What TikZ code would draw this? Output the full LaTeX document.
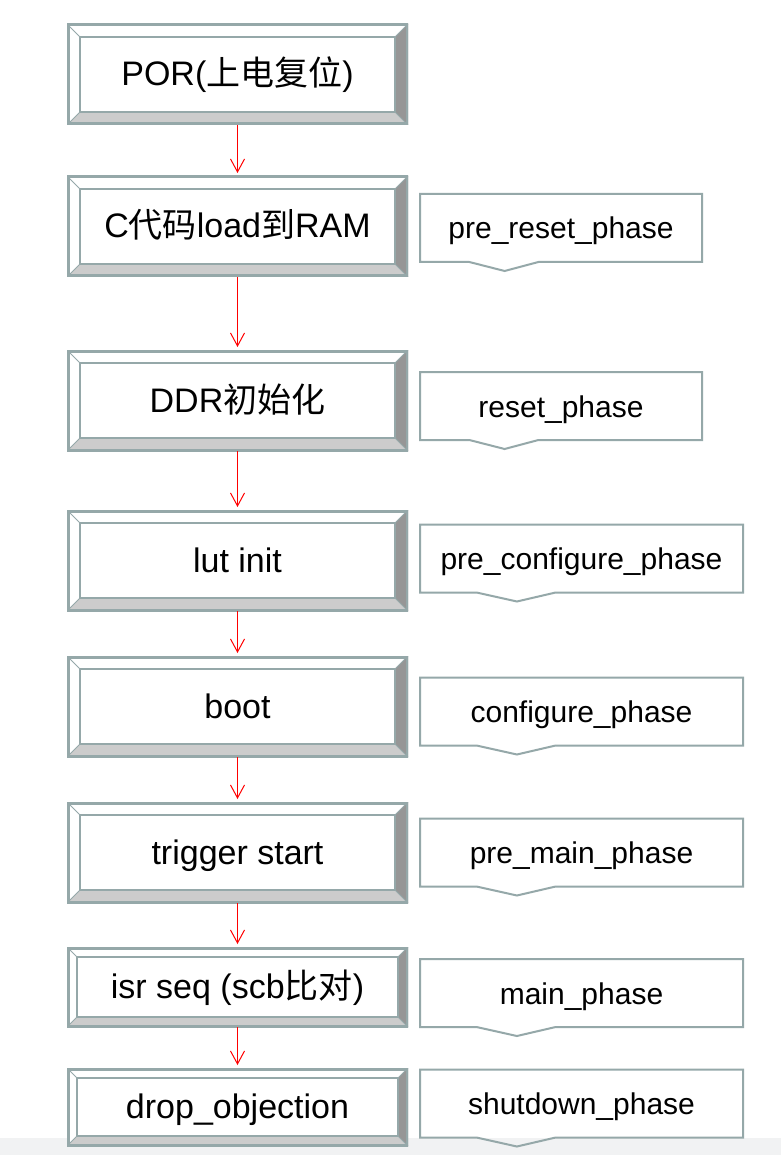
\documentclass[tikz,border=0pt]{standalone}
\usepackage{fontspec}
\setmainfont{Liberation Sans}
\newfontfamily\cjk{Noto Sans CJK SC}
\usepackage{xcolor}
\usepackage{tikz}
\usetikzlibrary{arrows.meta,positioning,calc}
\definecolor{edgegray}{HTML}{95A8A9}
\definecolor{bevelside}{HTML}{969696}
\definecolor{bevelfoot}{HTML}{CCCCCC}
\definecolor{bandgray}{HTML}{F1F2F3}
\newcommand{\bevelpic}[1]{%
  \coordinate (bnw) at (path picture bounding box.north west);
  \coordinate (bne) at (path picture bounding box.north east);
  \coordinate (bsw) at (path picture bounding box.south west);
  \coordinate (bse) at (path picture bounding box.south east);
  \coordinate (inw) at ([shift={(#1,-#1)}]bnw);
  \coordinate (ine) at ([shift={(-#1,-#1)}]bne);
  \coordinate (isw) at ([shift={(#1,#1)}]bsw);
  \coordinate (ise) at ([shift={(-#1,#1)}]bse);
  \fill[bevelfoot] (bsw) -- (bse) -- (ise) -- (isw) -- cycle;
  \fill[bevelside] (bne) -- (bse) -- (ise) -- (ine) -- cycle;
  \draw[edgegray,line width=1pt] (bnw) -- (inw) (bne) -- (ine) (bsw) -- (isw) (bse) -- (ise);
  \draw[edgegray,line width=2pt] (inw) rectangle (ise);
  \draw[edgegray,line width=5pt] (bnw) rectangle (bse);
}
\tikzset{
  bevelbox/.style={minimum width=341pt,minimum height=101pt,inner sep=0pt,outer sep=0pt,
    fill=white,font=\fontsize{34}{40}\selectfont,text height=25pt,text depth=2pt,
    path picture={\bevelpic{#1}}},
  bevelbox/.default=13pt,
  phasebox/.style={minimum height=68pt,inner sep=0pt,outer sep=0pt,fill=white,
    font=\fontsize{30}{36}\selectfont,text height=22pt,text depth=0pt},
  phaseline/.style={draw=edgegray,line width=2pt},
  flowarrow/.style={-{Straight Barb[length=13pt,width=14pt]},draw=red,line width=1pt,shorten >=3pt}
}
\begin{document}
\begin{tikzpicture}[x=1pt,y=-1pt]
  \useasboundingbox (0,0) rectangle (781,1155);
  \fill[white] (0,0) rectangle (781,1155);
  \fill[bandgray] (0,1138) rectangle (781,1155);
  % flow steps
  \node[bevelbox] (por) at (237.5,74.5) {POR({\cjk 上电复位})};
  \node[bevelbox,below=51pt of por] (cload) {C{\cjk 代码}load{\cjk 到}RAM};
  \node[bevelbox,below=73pt of cload] (ddr) {DDR{\cjk 初始化}};
  \node[bevelbox,below=59pt of ddr] (lut) {lut init};
  \node[bevelbox,below=45pt of lut] (boot) {boot};
  \node[bevelbox,below=45pt of boot] (trig) {trigger start};
  \node[bevelbox=10pt,minimum height=80pt,below=44pt of trig] (isr) {isr seq (scb{\cjk 比对})};
  \node[bevelbox=10pt,minimum height=78pt,below=41pt of isr] (drop) {drop\_objection};
  \draw[flowarrow] (por) -- (cload);
  \draw[flowarrow] (cload) -- (ddr);
  \draw[flowarrow] (ddr) -- (lut);
  \draw[flowarrow] (lut) -- (boot);
  \draw[flowarrow] (boot) -- (trig);
  \draw[flowarrow] (trig) -- (isr);
  \draw[flowarrow] (isr) -- (drop);
  % phases
  \node[phasebox,minimum width=282pt,right=12pt of cload,yshift=-1.5pt] (prereset) {pre\_reset\_phase};
  \node[phasebox,minimum width=282pt,right=12pt of ddr,yshift=-5.5pt] (reset) {reset\_phase};
  \node[phasebox,minimum width=323pt,right=12pt of lut,yshift=2pt] (preconfig) {pre\_configure\_phase};
  \node[phasebox,minimum width=323pt,right=12pt of boot,yshift=-5pt] (config) {configure\_phase};
  \node[phasebox,minimum width=323pt,right=12pt of trig] (premain) {pre\_main\_phase};
  \node[phasebox,minimum width=323pt,right=12pt of isr,yshift=-6pt] (mainph) {main\_phase};
  \node[phasebox,minimum width=323pt,right=12pt of drop,yshift=3.5pt] (shutdown) {shutdown\_phase};
  \foreach \p in {prereset,reset,preconfig,config,premain,mainph,shutdown}
    \draw[phaseline] (\p.south west) -- (\p.north west) -- (\p.north east) -- (\p.south east)
      -- ($(\p.south west)!0.42!(\p.south east)$)
      -- ([yshift=-9pt]$(\p.south west)!0.3!(\p.south east)$)
      -- ($(\p.south west)!0.175!(\p.south east)$) -- cycle;
\end{tikzpicture}
\end{document}
